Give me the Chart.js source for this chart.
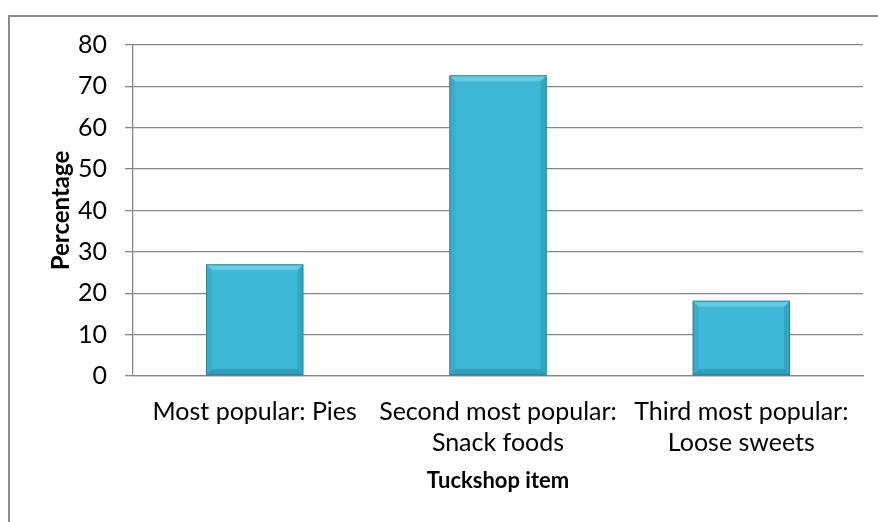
<!DOCTYPE html>
<html>
<head>
<meta charset="utf-8">
<script src="https://cdn.jsdelivr.net/npm/chart.js@4/dist/chart.umd.min.js"></script>
<style>
  html, body { margin: 0; padding: 0; background: #fff; }
  #wrap { position: relative; width: 878px; height: 522px; overflow: hidden; }
  #frame {
    position: absolute; left: 8px; top: 15px; width: 900px; height: 540px;
    border-left: 2px solid #8a8a8a; border-top: 2px solid #8a8a8a;
  }
  canvas { position: absolute; left: 0; top: 0; }
</style>
</head>
<body>
<div id="wrap">
  <div id="frame"></div>
  <canvas id="chart" width="878" height="522"></canvas>
</div>
<script>
const categories = [
  ["Most popular: Pies"],
  ["Second most popular:", "Snack foods"],
  ["Third most popular:", "Loose sweets"]
]
const percentages = [27, 72.7, 18.2]
const yMin = 0
const yMax = 80
const yStep = 10

const fontFamily = "Lato, 'Open Sans', sans-serif"
const lineGray = "#868686"

// Excel-style bevel: lighter top edge, darker bottom and right edges
const bevel = {
  id: "bevel",
  afterDatasetsDraw(chart) {
    const ctx = chart.ctx
    const b = 6
    chart.getDatasetMeta(0).data.forEach(bar => {
      const l = bar.x - bar.width / 2
      const r = bar.x + bar.width / 2
      const t = bar.y
      const btm = bar.base
      ctx.save()
      ctx.fillStyle = "rgba(130, 220, 240, 0.55)"
      ctx.beginPath()
      ctx.moveTo(l, t); ctx.lineTo(r, t); ctx.lineTo(r - b, t + b); ctx.lineTo(l + b, t + b)
      ctx.fill()
      ctx.fillStyle = "rgba(20, 110, 135, 0.35)"
      ctx.beginPath()
      ctx.moveTo(l, btm); ctx.lineTo(r, btm); ctx.lineTo(r - b, btm - b); ctx.lineTo(l + b, btm - b)
      ctx.fill()
      ctx.fillStyle = "rgba(20, 110, 135, 0.25)"
      ctx.beginPath()
      ctx.moveTo(r, t); ctx.lineTo(r, btm); ctx.lineTo(r - b, btm - b); ctx.lineTo(r - b, t + b)
      ctx.fill()
      ctx.fillStyle = "rgba(20, 110, 135, 0.12)"
      ctx.beginPath()
      ctx.moveTo(l, t); ctx.lineTo(l, btm); ctx.lineTo(l + b, btm - b); ctx.lineTo(l + b, t + b)
      ctx.fill()
      ctx.strokeStyle = "rgba(40, 110, 130, 0.7)"
      ctx.lineWidth = 1
      ctx.strokeRect(l + 0.5, t + 0.5, bar.width - 1, btm - t - 1)
      ctx.restore()
    })
  }
}

const ctx = document.getElementById("chart").getContext("2d")

new Chart(ctx, {
  type: "bar",
  data: {
    labels: categories,
    datasets: [{
      data: percentages,
      backgroundColor: "#3eb8d6",
      borderWidth: 0,
      categoryPercentage: 1,
      barPercentage: 0.4
    }]
  },
  options: {
    responsive: false,
    animation: false,
    layout: {
      padding: { top: 45, right: 15, left: 0, bottom: 0 }
    },
    scales: {
      y: {
        min: yMin,
        max: yMax,
        ticks: {
          stepSize: yStep,
          padding: 18,
          color: "#000",
          font: { family: fontFamily, size: 25 }
        },
        grid: { color: lineGray, tickLength: 8, lineWidth: 1.3 },
        border: { color: lineGray, width: 1.3 },
        title: {
          display: true,
          text: "Percentage",
          color: "#000",
          font: { family: fontFamily, size: 24, weight: "bold", lineHeight: 1.2 },
          padding: { top: 47 }
        },
        afterFit(scale) { scale.width = 133 }
      },
      x: {
        grid: { display: false },
        border: { color: lineGray, width: 1.3 },
        ticks: {
          padding: 12,
          color: "#000",
          maxRotation: 0,
          autoSkip: false,
          font: { family: fontFamily, size: 25, lineHeight: 1.25 }
        },
        title: {
          display: true,
          text: "Tuckshop item",
          color: "#000",
          font: { family: fontFamily, size: 22, weight: "bold", lineHeight: 1.2 },
          padding: { bottom: 28 }
        },
        afterFit(scale) { scale.height = 146 }
      }
    },
    plugins: {
      legend: { display: false },
      tooltip: { enabled: false }
    }
  },
  plugins: [bevel]
})
</script>
</body>
</html>
